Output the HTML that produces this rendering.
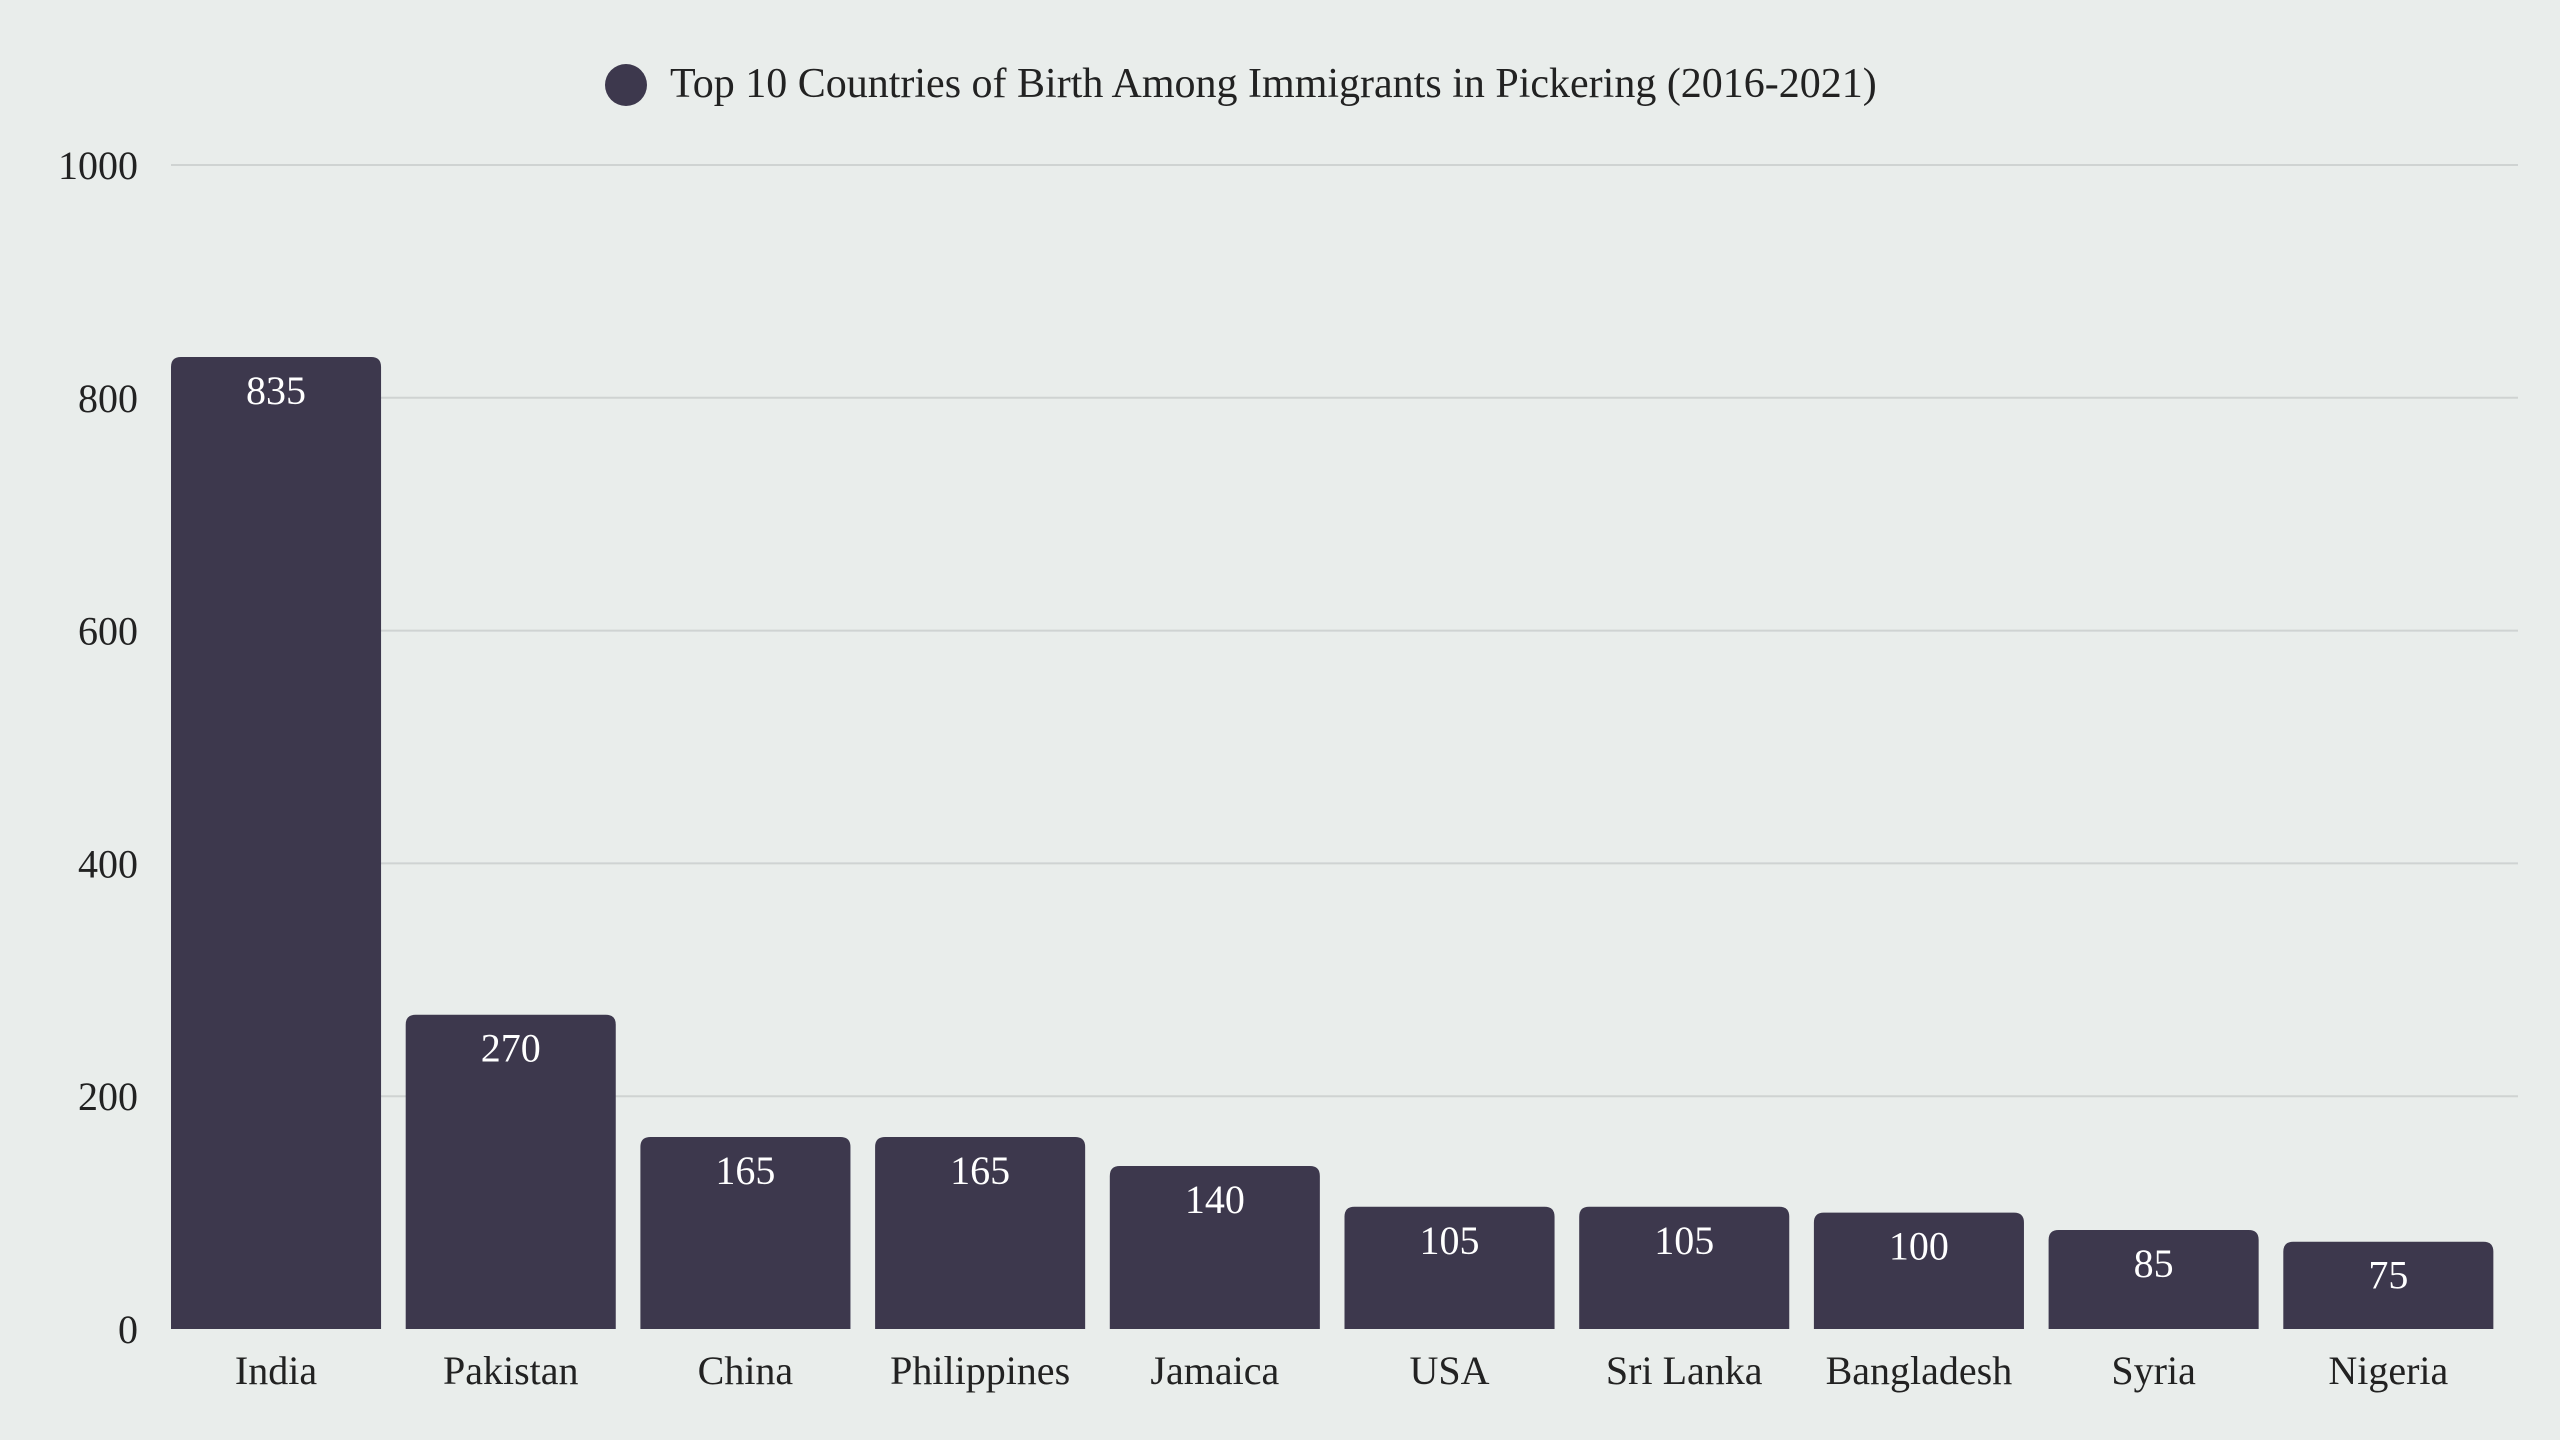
<!DOCTYPE html>
<html><head><meta charset="utf-8"><style>
html,body{margin:0;padding:0;background:#e9edeb;}
svg{display:block;font-family:"Liberation Serif",serif;}
</style></head><body>
<svg id="chart" width="2560" height="1440" viewBox="0 0 2560 1440">
<rect width="2560" height="1440" fill="#e9edeb"/>
<g>
<circle cx="626" cy="85" r="21" fill="#3d384d"/>
<text x="670" y="97" font-size="42" fill="#222">Top 10 Countries of Birth Among Immigrants in Pickering (2016-2021)</text>
</g>
<g id="grid"></g><g id="bars"></g><g id="labels"></g>
</svg>
<script>
const categories=["India","Pakistan","China","Philippines","Jamaica","USA","Sri Lanka","Bangladesh","Syria","Nigeria"];
const values=[835,270,165,165,140,105,105,100,85,75];
const yTicks=[0,200,400,600,800,1000];
const NS="http://www.w3.org/2000/svg";
const left=171,right=2518,y0=1329,y1=165,yMax=1000;
const step=(right-left)/categories.length,bw=step*0.895;
const y=v=>y0-(y0-y1)*v/yMax;
const x=i=>left+i*step;
function mk(t,a,p){const e=document.createElementNS(NS,t);for(const k in a)e.setAttribute(k,a[k]);p.appendChild(e);return e;}
const grid=document.getElementById('grid'),bars=document.getElementById('bars'),labels=document.getElementById('labels');
yTicks.forEach(t=>{
 if(t>0){const l=mk('line',{x1:left,x2:right,y1:y(t),y2:y(t),stroke:'#cfd3d2','stroke-width':2},grid);
 
 }
 const tx=mk('text',{x:138,y:y(t)+14,'font-size':40,fill:'#222','text-anchor':'end'},grid);
 tx.textContent=t;
 
 
});
categories.forEach((c,i)=>{
 const bx=x(i),by=y(values[i]),h=y0-by,r=10;
 const p=mk('path',{d:`M${bx},${y0}V${by+r}Q${bx},${by} ${bx+r},${by}H${bx+bw-r}Q${bx+bw},${by} ${bx+bw},${by+r}V${y0}Z`,fill:'#3d384d'},bars);
 
 
 const v=mk('text',{x:bx+bw/2,y:by+47,'font-size':40,fill:'#fff','text-anchor':'middle'},labels);
 v.textContent=values[i];
 
 
 const t=mk('text',{x:bx+bw/2,y:1384,'font-size':40,fill:'#222','text-anchor':'middle'},labels);
 t.textContent=c;
 
 
});
</script>
</body></html>
